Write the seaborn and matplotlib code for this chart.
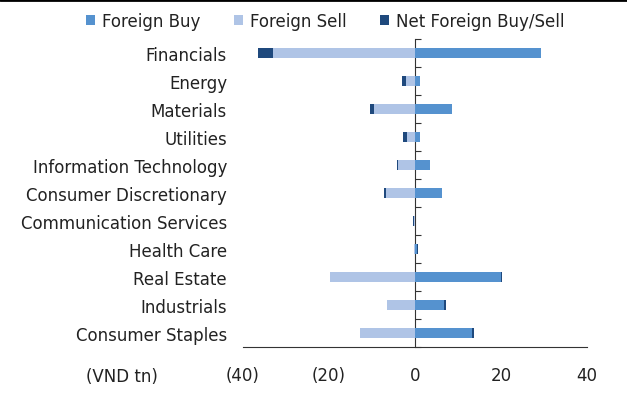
import numpy as np
import matplotlib
matplotlib.use('Agg')
import matplotlib.pyplot as plt
import seaborn as sns
from matplotlib.ticker import FuncFormatter
from matplotlib.lines import Line2D

# values (VND tn)
sectors = ['Financials', 'Energy', 'Materials', 'Utilities', 'Information Technology',
           'Consumer Discretionary', 'Communication Services', 'Health Care',
           'Real Estate', 'Industrials', 'Consumer Staples']
foreign_buy = [29.4, 1.1, 8.5, 1.1, 3.6, 6.2, 0.1, 0.5, 20.0, 6.8, 13.2]
foreign_sell = [-33.0, -2.1, -9.5, -1.9, -3.9, -6.7, -0.3, -0.2, -19.8, -6.4, -12.7]
net_flow = [-3.6, -1.0, -1.0, -0.8, -0.3, -0.5, -0.2, 0.3, 0.2, 0.4, 0.5]

c_buy = '#5592CF'
c_sell = '#AFC4E6'
c_net = '#1F497D'

# net segment sits at the end of the side it belongs to
net_end = [s + n if n < 0 else b + n for b, s, n in zip(foreign_buy, foreign_sell, net_flow)]

sns.set_style('white')
plt.rcParams['font.family'] = ['DejaVu Sans']
plt.rcParams['text.color'] = '#222222'
plt.rcParams['xtick.color'] = '#222222'
plt.rcParams['ytick.color'] = '#222222'

fig = plt.figure(figsize=(6.27, 4.06), dpi=100)
ax = fig.add_axes([0.3876, 0.1429, 0.5486, 0.7586])

bar_w = 0.33
sns.barplot(x=net_end, y=sectors, orient='h', color=c_net, width=bar_w,
            linewidth=0, saturation=1, ax=ax, label='Net Foreign Buy/Sell')
sns.barplot(x=foreign_buy, y=sectors, orient='h', color=c_buy, width=bar_w,
            linewidth=0, saturation=1, ax=ax, label='Foreign Buy')
sns.barplot(x=foreign_sell, y=sectors, orient='h', color=c_sell, width=bar_w,
            linewidth=0, saturation=1, ax=ax, label='Foreign Sell')

ax.set_xlim(-40, 40)
ax.set_ylim(len(sectors) - 0.5, -0.5)
ax.set_xticks([-40, -20, 0, 20, 40])
ax.xaxis.set_major_formatter(FuncFormatter(lambda v, p: f'({abs(v):.0f})' if v < 0 else f'{v:.0f}'))
ax.set_xlabel('')
ax.set_ylabel('')

for s in ['top', 'right', 'left']:
    ax.spines[s].set_visible(False)
ax.spines['bottom'].set_color('#333333')
ax.tick_params(axis='x', direction='in', length=5, color='#333333', labelsize=12, pad=14)
ax.tick_params(axis='y', length=0, labelsize=12, pad=11.5)

# zero line with category-boundary ticks
zero_loc = (0 - ax.get_xlim()[0]) / (ax.get_xlim()[1] - ax.get_xlim()[0])
sec = ax.secondary_yaxis(zero_loc)
sec.set_yticks(np.arange(-0.5, len(sectors), 1))
sec.set_yticklabels([])
sec.tick_params(direction='out', length=4, color='#333333')
for sp in sec.spines.values():
    sp.set_color('#333333')

fig.text(0.194, 0.071, '(VND tn)', ha='center', va='center', fontsize=12)

handles, labels = ax.get_legend_handles_labels()
order = [labels.index(l) for l in ['Foreign Buy', 'Foreign Sell', 'Net Foreign Buy/Sell']]
ax.legend([handles[i] for i in order], [labels[i] for i in order], ncol=3,
          loc='center left', bbox_to_anchor=(86 / 627, 1 - 22 / 406), bbox_transform=fig.transFigure,
          frameon=False, fontsize=12, handlelength=0.54, handleheight=0.54,
          handletextpad=0.42, columnspacing=2.0, borderpad=0, borderaxespad=0)

fig.add_artist(Line2D([0, 1], [0.998, 0.998], color='black', lw=2, transform=fig.transFigure))

fig.savefig('out.png', dpi=100)
